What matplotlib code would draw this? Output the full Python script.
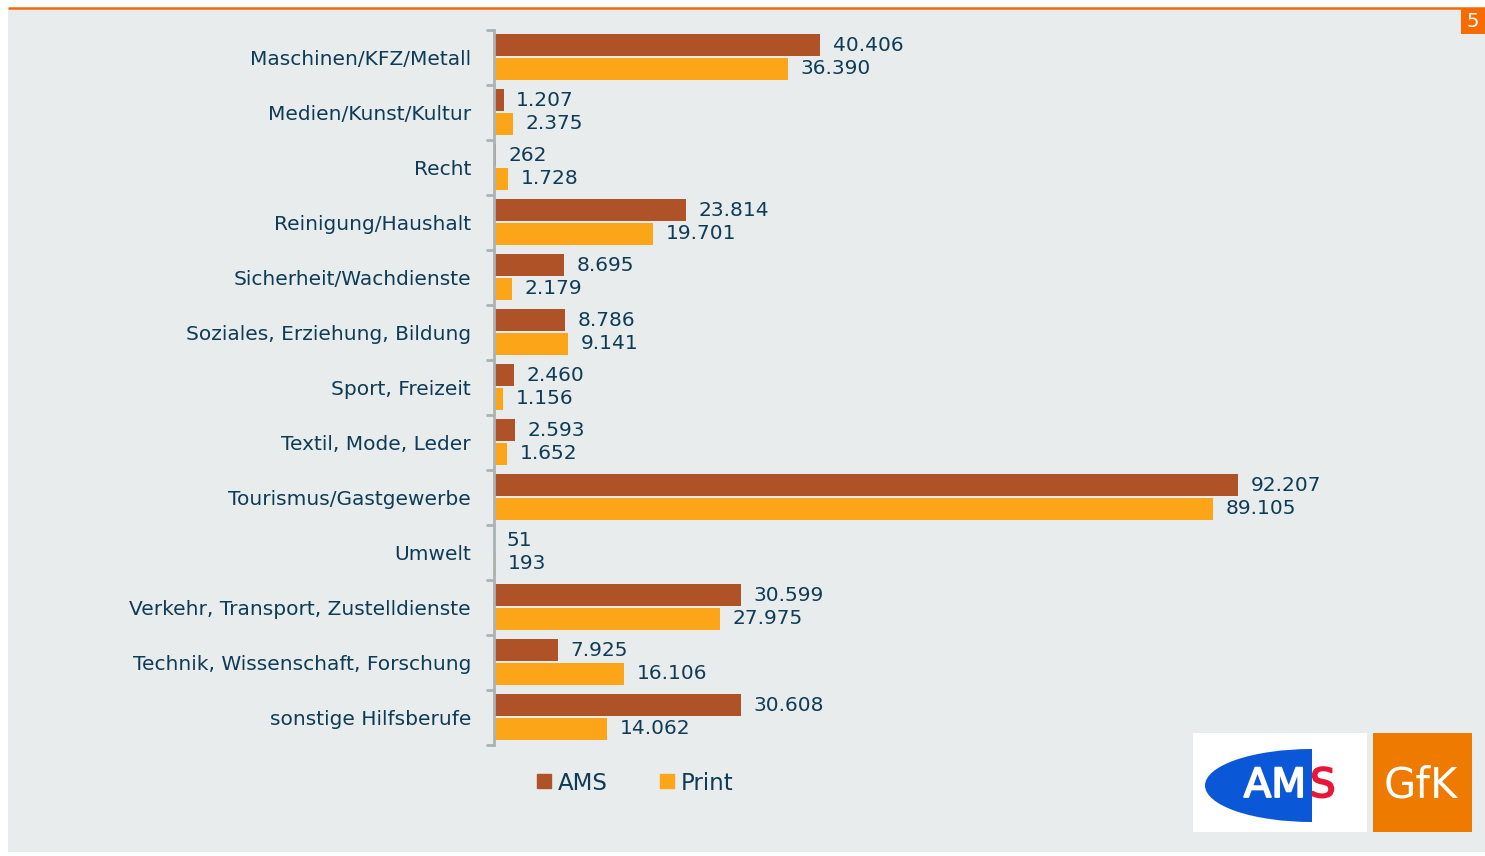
import matplotlib.pyplot as plt
import matplotlib.patches as mpatches
import matplotlib.patheffects as pe
from matplotlib.lines import Line2D
import numpy as np

# data
kategorien = ["Maschinen/KFZ/Metall", "Medien/Kunst/Kultur", "Recht",
              "Reinigung/Haushalt", "Sicherheit/Wachdienste",
              "Soziales, Erziehung, Bildung", "Sport, Freizeit",
              "Textil, Mode, Leder", "Tourismus/Gastgewerbe", "Umwelt",
              "Verkehr, Transport, Zustelldienste",
              "Technik, Wissenschaft, Forschung", "sonstige Hilfsberufe"]
ams = [40406, 1207, 262, 23814, 8695, 8786, 2460, 2593, 92207, 51, 30599, 7925, 30608]
prnt = [36390, 2375, 1728, 19701, 2179, 9141, 1156, 1652, 89105, 193, 27975, 16106, 14062]

W, H = 1485, 856
c_ams = '#AF5227'
c_print = '#FCA518'
c_text = '#0E3B55'
c_bg = '#E8ECEC'
c_axis = '#A9B3B3'


def fmt(v):
    return f"{v:,}".replace(",", ".")


fig = plt.figure(figsize=(W / 100, H / 100), dpi=100, facecolor='white')

# decoration layer in pixel coordinates
bg = fig.add_axes([0, 0, 1, 1], zorder=0)
bg.set_xlim(0, W)
bg.set_ylim(H, 0)
bg.axis('off')
bg.add_patch(mpatches.Rectangle((8, 8), W - 8, 844, color=c_bg, lw=0))
bg.plot([8, W], [7.5, 7.5], color='#F46A00', lw=1.8, solid_capstyle='butt')
bg.add_patch(mpatches.Rectangle((1461, 8), 24, 26, color='#F76B00', lw=0))
bg.text(1466, 21, "5", color='white', fontsize=14, ha='left', va='center')

# AMS logo
bg.add_patch(mpatches.Rectangle((1193, 733), 174, 99, color='white', lw=0))
ell = mpatches.Ellipse((1312, 785.5), 214, 73, color='#0A58D8', lw=0)
bg.add_patch(ell)
clip = mpatches.Rectangle((1193, 733), 119, 99, transform=bg.transData)
ell.set_clip_path(clip)
bg.text(1306, 797, "AM", color='white', fontsize=29, ha='right', va='baseline',
        path_effects=[pe.withStroke(linewidth=1.3, foreground='white')])
bg.text(1310, 797, "S", color='#E8173A', fontsize=29, ha='left', va='baseline',
        path_effects=[pe.withStroke(linewidth=1.3, foreground='#E8173A')])

# GfK logo
bg.add_patch(mpatches.Rectangle((1373, 733), 99, 99, color='#EE7B00', lw=0))
bg.text(1421, 798, "GfK", color='white', fontsize=30, ha='center', va='baseline')

# main chart
ax = fig.add_axes([494 / W, 1 - 745 / H, 807 / W, 715 / H], zorder=1)
ax.set_facecolor('none')

y = np.arange(len(kategorien))
bh = 0.41
ax.barh(y - 0.225, ams, height=bh, color=c_ams, label='AMS')
ax.barh(y + 0.205, prnt, height=bh, color=c_print, label='Print')

for i in range(len(kategorien)):
    ax.annotate(fmt(ams[i]), (ams[i], y[i] - 0.225), xytext=(9, 0),
                textcoords='offset points', va='center', ha='left',
                fontsize=14.5, color=c_text)
    ax.annotate(fmt(prnt[i]), (prnt[i], y[i] + 0.205), xytext=(9, 0),
                textcoords='offset points', va='center', ha='left',
                fontsize=14.5, color=c_text)

ax.set_xlim(0, 100000)
ax.set_ylim(len(kategorien) - 0.5, -0.5)
ax.set_yticks(y)
ax.set_yticklabels(kategorien, fontsize=14.5, color=c_text)
ax.tick_params(axis='y', which='major', length=0, pad=16.5)
ax.set_yticks(np.arange(len(kategorien) + 1) - 0.5, minor=True)
ax.tick_params(axis='y', which='minor', length=6, width=2, color=c_axis)
ax.set_xticks([])
for s in ['top', 'right', 'bottom']:
    ax.spines[s].set_visible(False)
ax.spines['left'].set_color(c_axis)
ax.spines['left'].set_linewidth(2)

handles = [Line2D([], [], ls='none', marker='s', markersize=10, color=c_ams),
           Line2D([], [], ls='none', marker='s', markersize=10, color=c_print)]
fig.legend(handles, ['AMS', 'Print'], loc='center',
           bbox_to_anchor=(635 / W, 1 - 783 / H), ncol=2, frameon=False,
           fontsize=16.5, labelcolor=c_text, handlelength=0.7,
           handletextpad=0.25, columnspacing=2.25, borderpad=0)

fig.savefig('out.png', dpi=100, facecolor='white')
